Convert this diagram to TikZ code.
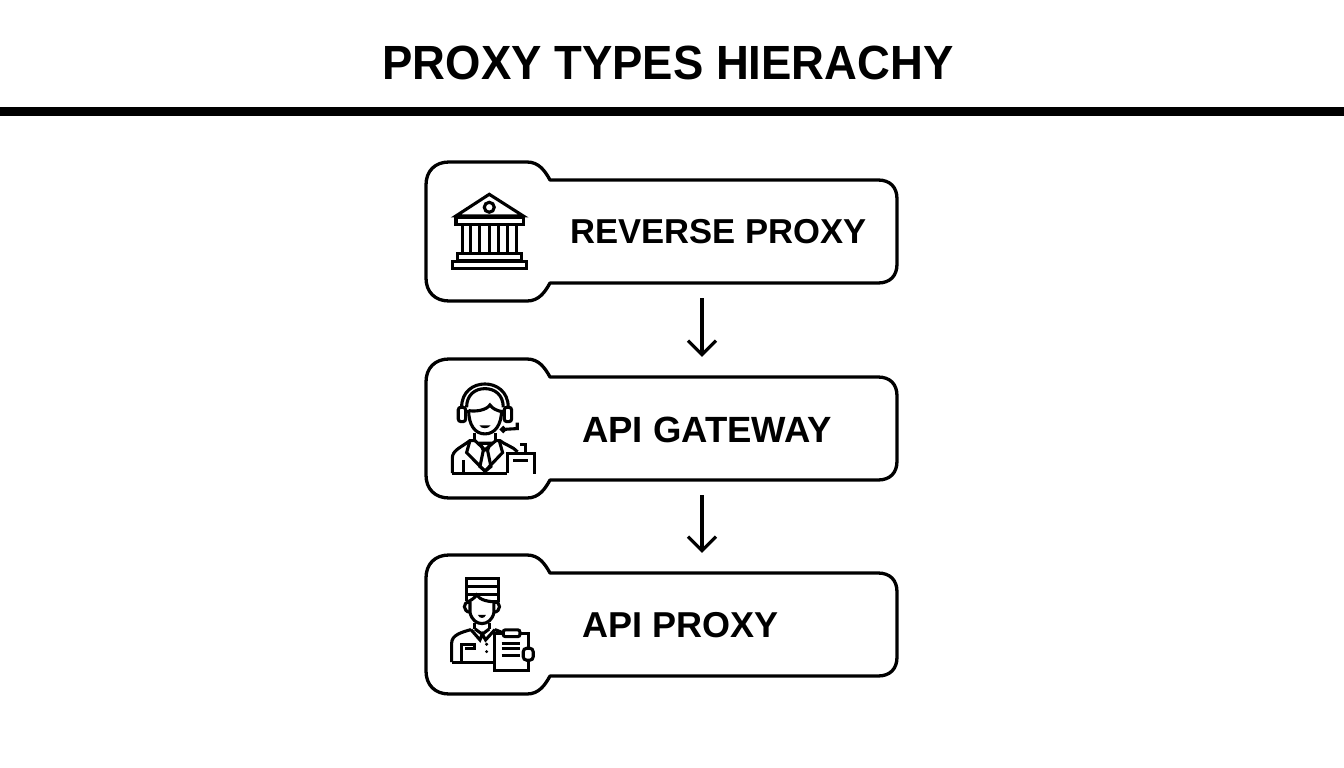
\documentclass[tikz,border=0pt]{standalone}
\usepackage{fontspec}
\setmainfont{Liberation Sans}
\newfontfamily\titlefont[FakeStretch=0.947]{Liberation Sans}
\usetikzlibrary{positioning,arrows.meta}

% outline of one box: tall tab on the left, lower bar on the right
\newcommand{\tabbox}[1]{
  \draw[box line,shift={(0,#1)}] (449,162) -- (527,162)
    .. controls (539,162) and (545,171) .. (550,180) -- (878,180)
    .. controls (890,180) and (897,187) .. (897,199) -- (897,264)
    .. controls (897,276) and (890,283) .. (878,283) -- (550,283)
    .. controls (545,292) and (539,301) .. (527,301) -- (449,301)
    .. controls (435,301) and (426,292) .. (426,278) -- (426,185)
    .. controls (426,171) and (435,162) .. (449,162) -- cycle;
}

\begin{document}
\begin{tikzpicture}[x=1pt,y=-1pt,>={Straight Barb[length=14pt,width=28pt]},
        box line/.style={line width=3.3pt,line join=round},
        icon line/.style={line width=3.1pt,line join=miter},
        bar node/.style={minimum width=392pt,minimum height=103pt,inner sep=0pt},
        label node/.style={anchor=west,inner sep=0pt,font=\fontsize{36}{40}\selectfont\bfseries},
        link/.style={->,line width=3.2pt,line join=round,shorten <=15pt,shorten >=20pt}]

    \useasboundingbox (0,0) rectangle (1344,768);

    \node[font=\titlefont\fontsize{48}{56}\selectfont\bfseries,inner sep=0pt] (title) at (668,63) {PROXY TYPES HIERACHY};
    \fill (0,107) rectangle (1344,116);

    \tabbox{0}
    \tabbox{197}
    \tabbox{393}

    \node[bar node] (reversebar) at (702,231.5) {};
    \node[bar node] (gatewaybar) at (702,428.5) {};
    \node[bar node] (proxybar) at (702,624.5) {};

    \node[label node,font=\fontsize{34.6}{40}\selectfont\bfseries] (reverse) at (570,232) {REVERSE PROXY};
    \node[label node,font=\fontsize{36.5}{40}\selectfont\bfseries] (gateway) at (582,430) {API GATEWAY};
    \node[label node] (proxy) at (582,625) {API PROXY};

    \path
    (reversebar) edge[link] (gatewaybar)
    (gatewaybar) edge[link] (proxybar);

    % temple icon
    \begin{scope}[shift={(420,150)},x=0.333pt,y=-0.333pt,icon line]
      \draw (208,133) -- (108,198) -- (310,198) -- cycle;
      \draw (208,172) circle (15);
      \draw (108,203) rectangle (310,225);
      \draw (128,225) -- (128,312) (152,225) -- (152,312) (180,225) -- (180,312)
            (208,225) -- (208,312) (236,225) -- (236,312) (264,225) -- (264,312)
            (290,225) -- (290,312);
      \draw (112,312) rectangle (305,333);
      \draw (97,335) rectangle (320,357);
    \end{scope}

    % agent icon
    \begin{scope}[shift={(420,350)},x=0.333pt,y=-0.333pt,icon line]
      \draw (125,172) .. controls (125,125) and (160,102) .. (195,102)
                      .. controls (230,102) and (265,125) .. (265,172);
      \draw (140,172) .. controls (140,135) and (165,116) .. (195,116)
                      .. controls (225,116) and (250,135) .. (250,172);
      \draw[rounded corners=2.5pt] (115,172) rectangle (137,215);
      \draw[rounded corners=2.5pt] (253,172) rectangle (275,215);
      \draw (146,180) .. controls (146,225) and (165,252) .. (195,252)
                      .. controls (225,252) and (245,225) .. (245,180);
      \draw (146,182) .. controls (170,186) and (200,180) .. (210,165)
                      .. controls (218,177) and (232,182) .. (245,185);
      \fill (178,226) -- (212,226) .. controls (205,238) and (185,238) .. (178,226) -- cycle;
      \draw (292,218) -- (292,236) -- (258,238);
      \draw (250,239) circle (5);
      \draw (165,250) -- (165,272) (228,250) -- (228,272);
      \draw (97,370) -- (97,325) .. controls (97,300) and (125,292) .. (150,272)
            -- (165,272) (228,272) -- (240,272) .. controls (255,285) and (280,290) .. (293,306);
      \draw (150,272) -- (140,308) -- (195,364) -- (248,308) -- (238,272);
      \draw (165,272) -- (195,300) -- (228,272);
      \draw (182,280) -- (210,280) -- (203,302) -- (213,350) -- (196,364) -- (180,350) -- (190,302) -- cycle;
      \draw (130,330) -- (130,370);
      \draw (97,370) -- (262,370);
      \draw (262,370) -- (262,312) -- (345,312) -- (345,372);
      \draw (280,332) -- (325,332);
      \draw (300,283) -- (318,283) -- (318,312);
    \end{scope}

    % bellhop icon
    \begin{scope}[shift={(420,545)},x=0.333pt,y=-0.333pt,icon line]
      \draw (140,168) -- (140,100) -- (235,100) -- (235,170);
      \draw (140,125) -- (235,125) (140,148) -- (235,148);
      \draw (145,170) .. controls (155,165) and (165,158) .. (170,150)
                      .. controls (180,165) and (205,172) .. (235,170);
      \draw (148,172) .. controls (128,170) and (128,200) .. (150,202);
      \draw (224,172) .. controls (244,170) and (244,200) .. (222,202);
      \draw (150,170) -- (150,202) .. controls (155,225) and (170,236) .. (186,236)
                      .. controls (202,236) and (218,225) .. (222,202) -- (222,170);
      \fill (174,210) -- (198,210) .. controls (194,222) and (178,222) .. (174,210) -- cycle;
      \draw (165,234) -- (165,252) (208,234) -- (208,252);
      \draw (153,254) -- (180,285) -- (187,268) -- (197,285) -- (225,254);
      \draw (165,252) -- (187,268) -- (208,252);
      \draw (95,352) -- (95,295) .. controls (95,270) and (125,262) .. (153,254);
      \draw (225,254) -- (245,262);
      \draw (95,352) -- (225,352);
      \draw (125,352) -- (125,298) -- (165,298) -- (165,312) -- (135,312);
      \fill (200,298) circle (5) (200,320) circle (5);
      \draw[fill=white] (225,265) rectangle (327,378);
      \draw[fill=white,rounded corners=2pt] (250,255) rectangle (300,275);
      \draw (245,295) -- (300,295) (245,312) -- (300,312) (245,332) -- (300,332);
      \draw[fill=white,rounded corners=3.5pt] (310,310) rectangle (340,346);
    \end{scope}

\end{tikzpicture}
\end{document}
